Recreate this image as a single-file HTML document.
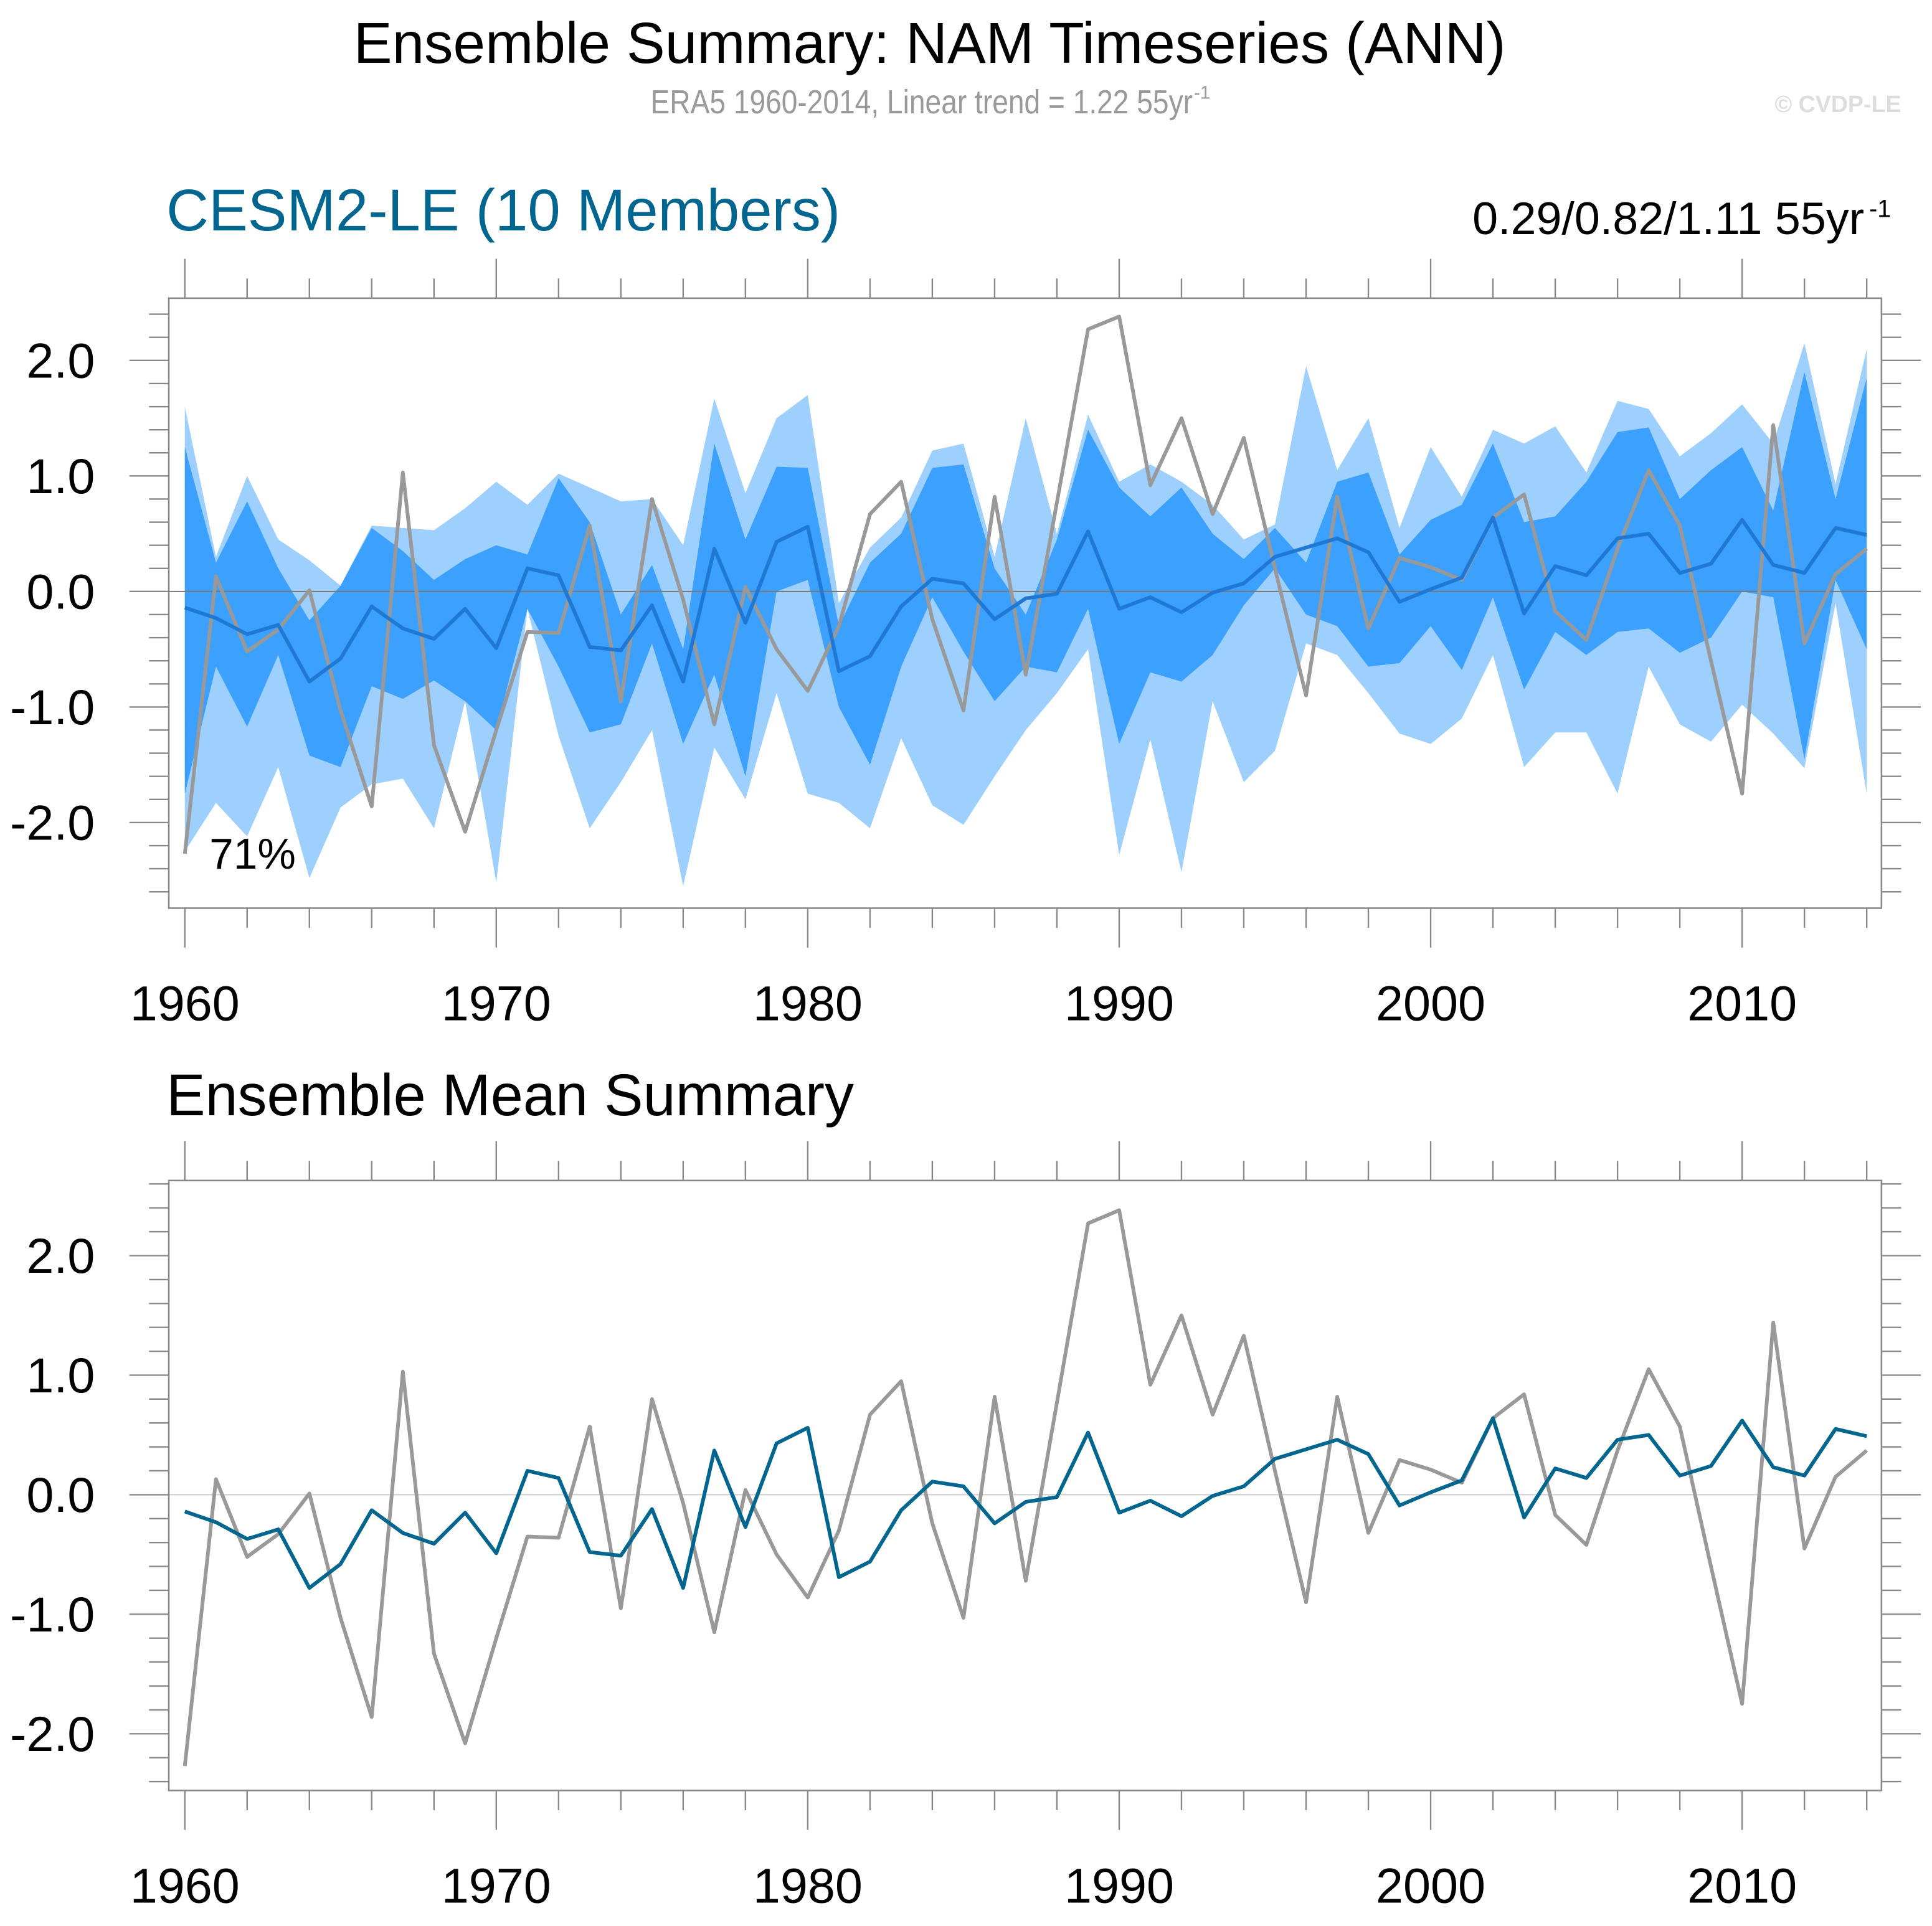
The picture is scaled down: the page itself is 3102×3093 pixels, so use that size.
<!DOCTYPE html>
<html><head><meta charset="utf-8"><style>
html,body{margin:0;padding:0;background:#fff;}
svg{display:block;font-family:"Liberation Sans",sans-serif;}
</style></head><body>
<svg id="chart" width="3102" height="3093" viewBox="0 0 1568 1563" preserveAspectRatio="none" xmlns="http://www.w3.org/2000/svg">
<text x="287" y="51" font-size="47" textLength="935" lengthAdjust="spacingAndGlyphs" fill="#000">Ensemble Summary: NAM Timeseries (ANN)</text>
<text x="528" y="92" font-size="27" textLength="440" lengthAdjust="spacingAndGlyphs" fill="#999">ERA5 1960-2014, Linear trend = 1.22 55yr</text>
<text x="969" y="80" font-size="15" fill="#999">-1</text>
<text x="1543" y="91" font-size="19" font-weight="bold" text-anchor="end" fill="#ddd">© CVDP-LE</text>
<text x="135" y="187" font-size="48" textLength="547" lengthAdjust="spacingAndGlyphs" fill="#00668f">CESM2-LE (10 Members)</text>
<text x="1195" y="190" font-size="37" textLength="318" lengthAdjust="spacingAndGlyphs" fill="#000">0.29/0.82/1.11 55yr</text>
<text x="1517" y="176" font-size="20" fill="#000">-1</text>
<text x="135" y="905" font-size="48" textLength="558" lengthAdjust="spacingAndGlyphs" fill="#000">Ensemble Mean Summary</text>
<g id="top"></g>
<g id="bot"></g>
</svg>
<script>
const years=[];for(let y=1960;y<=2014;y++)years.push(y);
const obs=[-2.27,0.13,-0.52,-0.33,0.01,-1.03,-1.86,1.03,-1.33,-2.08,-1.2,-0.35,-0.36,0.57,-0.95,0.8,-0.07,-1.15,0.04,-0.5,-0.86,-0.3,0.67,0.95,-0.24,-1.03,0.82,-0.72,0.77,2.27,2.38,0.92,1.5,0.67,1.33,0.2,-0.9,0.82,-0.32,0.29,0.21,0.1,0.64,0.84,-0.17,-0.42,0.37,1.05,0.57,-0.6,-1.75,1.44,-0.45,0.15,0.37];
const ensMean=[-0.14,-0.23,-0.37,-0.29,-0.78,-0.58,-0.13,-0.32,-0.41,-0.15,-0.49,0.2,0.14,-0.48,-0.51,-0.12,-0.78,0.37,-0.27,0.43,0.56,-0.69,-0.56,-0.13,0.11,0.07,-0.24,-0.06,-0.02,0.52,-0.15,-0.05,-0.18,-0.01,0.07,0.3,0.38,0.46,0.34,-0.09,0.02,0.12,0.64,-0.19,0.22,0.14,0.46,0.5,0.16,0.24,0.62,0.23,0.16,0.55,0.49];
const lightUpper=[1.6,0.3,1.0,0.45,0.27,0.05,0.57,0.55,0.53,0.72,0.95,0.75,1.02,0.9,0.78,0.8,0.4,1.67,0.85,1.5,1.7,-0.1,0.38,0.64,1.22,1.28,0.3,1.5,0.5,1.53,0.95,1.1,0.95,0.75,0.45,0.58,1.95,1.05,1.5,0.55,1.25,0.82,1.4,1.28,1.43,1.03,1.65,1.58,1.17,1.37,1.62,1.28,2.15,0.93,2.1];
const darkUpper=[1.25,0.25,0.78,0.2,-0.25,0.05,0.55,0.35,0.1,0.28,0.4,0.32,0.98,0.6,-0.2,0.23,-0.5,1.28,0.45,1.08,1.07,-0.3,0.25,0.5,1.07,1.1,0.2,-0.2,0.45,1.4,0.9,0.65,0.9,0.5,0.28,0.55,0.25,0.95,1.03,0.32,0.62,0.75,1.28,0.6,0.65,0.95,1.38,1.42,0.8,1.05,1.25,0.7,1.9,0.8,1.85];
const darkLower=[-1.75,-0.65,-1.17,-0.55,-1.42,-1.52,-0.82,-0.93,-0.77,-0.95,-1.2,-0.15,-0.65,-1.22,-1.15,-0.45,-1.32,-0.72,-1.6,0.0,0.1,-1.0,-1.5,-0.65,-0.05,-0.52,-0.95,-0.65,-0.7,-0.15,-1.32,-0.7,-0.78,-0.55,-0.12,0.2,-0.2,-0.3,-0.65,-0.62,-0.3,-0.68,-0.05,-0.85,-0.35,-0.55,-0.35,-0.32,-0.53,-0.4,0.0,-0.05,-1.45,0.1,-0.5];
const lightLower=[-2.25,-1.83,-2.12,-1.52,-2.48,-1.87,-1.67,-1.62,-2.05,-0.95,-2.52,-0.15,-1.25,-2.05,-1.65,-1.2,-2.55,-1.35,-1.8,-0.88,-1.75,-1.83,-2.05,-1.27,-1.85,-2.02,-1.6,-1.2,-0.88,-0.5,-2.28,-1.28,-2.43,-0.95,-1.65,-1.38,-0.45,-0.55,-0.88,-1.23,-1.32,-1.1,-0.55,-1.52,-1.22,-1.22,-1.75,-0.65,-1.15,-1.3,-0.98,-1.23,-1.53,-0.1,-1.75];
const xTickLabels=["1960","1970","1980","1990","2000","2010"];
const yTickLabels=["-2.0","-1.0","0.0","1.0","2.0"];
const NS="http://www.w3.org/2000/svg";
function mk(parent,tag,attrs){const e=document.createElementNS(NS,tag);for(const k in attrs)e.setAttribute(k,attrs[k]);parent.appendChild(e);return e;}
const X0=137,X1=1527;
function xs(yr){return 150+(yr-1960)*(1515-150)/54;}
function panel(g,top,zeroY,unit,bands,meanColor,pct){
  const bot=top+495;
  const ys=v=>zeroY-v*unit;
  const clip="c"+top;
  const cp=mk(g,"clipPath",{id:clip});mk(cp,"rect",{x:X0,y:top,width:X1-X0,height:495});
  const inner=mk(g,"g",{"clip-path":"url(#"+clip+")"});
  function band(up,lo,col,name){
    let d="M"+years.map((y,i)=>xs(y)+","+ys(up[i])).join("L");
    d+="L"+years.slice().reverse().map((y,j)=>{const i=years.length-1-j;return xs(y)+","+ys(lo[i]);}).join("L")+"Z";
    const p=mk(inner,"path",{d:d,fill:col});
    
    
  }
  if(bands){band(lightUpper,lightLower,"#9dcfff","min-max-band");band(darkUpper,darkLower,"#3ca0ff","inner-percentile-band");}
  const zl=mk(inner,"line",{x1:X0,x2:X1,y1:zeroY,y2:zeroY,stroke:bands?"#777":"#ccc","stroke-width":1});
  
  
  function line(vals,col,name){
    const p=mk(inner,"polyline",{points:years.map((y,i)=>xs(y)+","+ys(vals[i])).join(" "),fill:"none",stroke:col,"stroke-width":3,"stroke-linejoin":"round"});
    
    
  }
  line(obs,"#999","era5-line");
  line(ensMean,meanColor,"ensemble-mean-line");
  const fr=mk(g,"rect",{x:X0,y:top,width:X1-X0,height:495,fill:"none",stroke:"#888","stroke-width":1.3});
  
  
  for(let y=1960;y<=2014;y+=2){
    const major=(y%10===0),L=major?32:16,x=xs(y);
    mk(g,"line",{x1:x,x2:x,y1:top,y2:top-L,stroke:"#888","stroke-width":1.2});
    mk(g,"line",{x1:x,x2:x,y1:bot,y2:bot+L,stroke:"#888","stroke-width":1.2});
  }
  xTickLabels.forEach(t=>{
    const tx=mk(g,"text",{x:xs(+t),y:bot+91,"font-size":40,"text-anchor":"middle",fill:"#000"});
    tx.textContent=t;
    
    
  });
  for(let k=-30;k<=30;k+=2){
    const v=k/10,y=ys(v);if(y<top-0.5||y>bot+0.5)continue;
    const major=(k%10===0),L=major?32:16;
    mk(g,"line",{x1:X0,x2:X0-L,y1:y,y2:y,stroke:"#888","stroke-width":1.2});
    mk(g,"line",{x1:X1,x2:X1+L,y1:y,y2:y,stroke:"#888","stroke-width":1.2});
  }
  yTickLabels.forEach(t=>{
    const tx=mk(g,"text",{x:77,y:ys(+t)+14,"font-size":40,"text-anchor":"end",fill:"#000"});
    tx.textContent=t;
    
    
  });
  if(pct){
    const tx=mk(g,"text",{x:170,y:705,"font-size":35,fill:"#000"});
    tx.textContent=pct;
    
    
  }
}
const gt=document.getElementById("top");


const gb=document.getElementById("bot");


panel(gt,242,480,93.75,true,"#1f78d4","71%");
panel(gb,958,1213,97,false,"#00668f",null);
</script>
</body></html>
